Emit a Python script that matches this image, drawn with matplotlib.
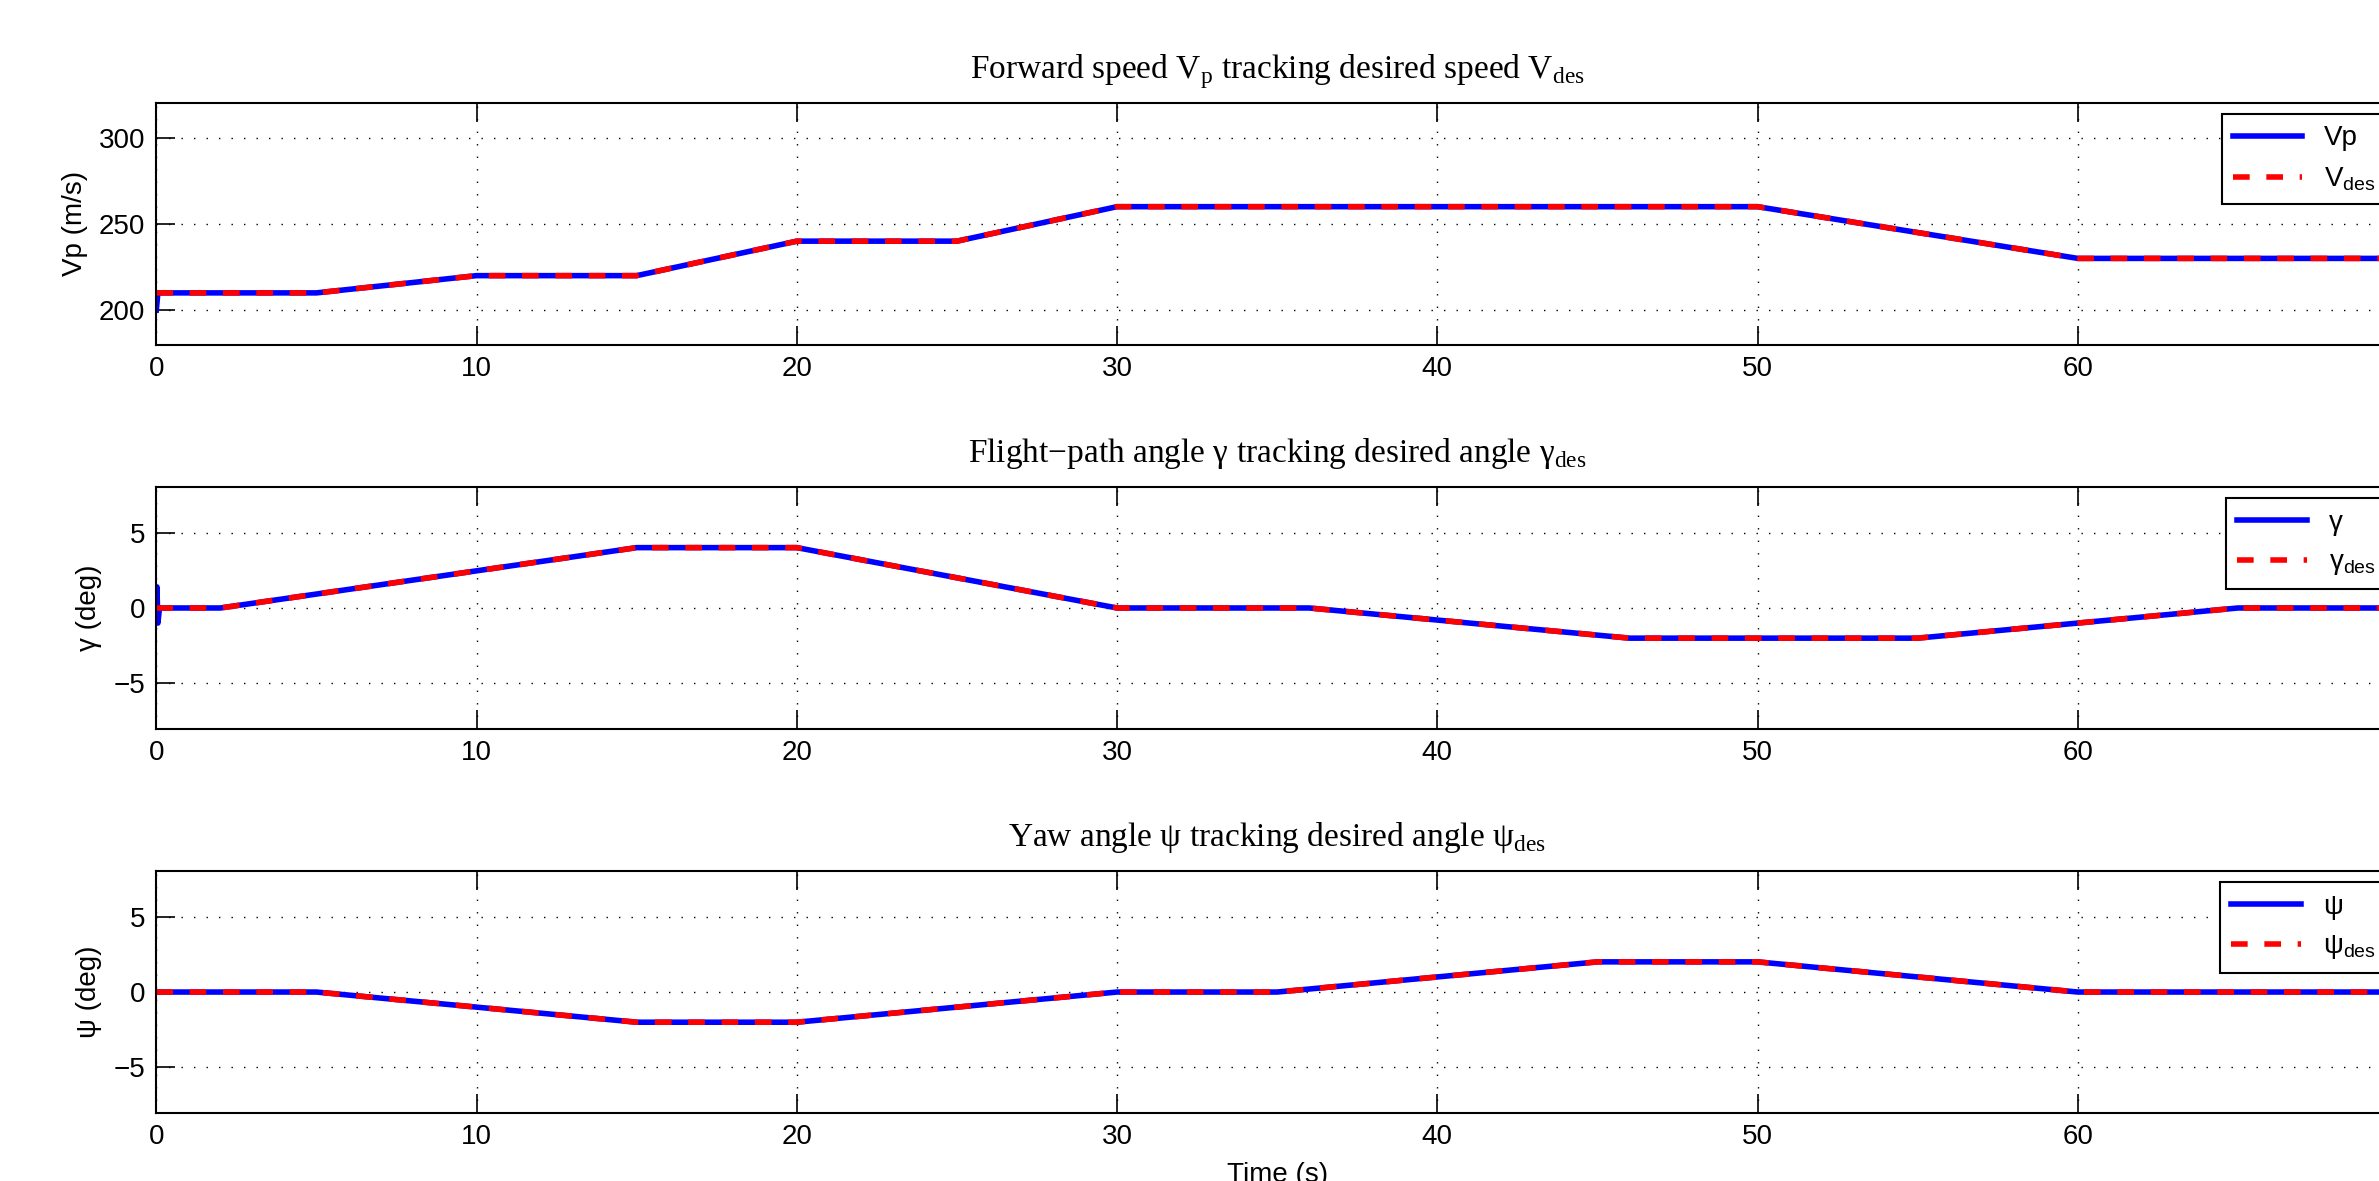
import matplotlib
matplotlib.use('Agg')
import matplotlib.pyplot as plt

# forward speed
t_vp = [0, 0.05, 5, 10, 15, 20, 25, 30, 50, 60, 70]
vp = [200, 210, 210, 220, 220, 240, 240, 260, 260, 230, 230]
t_vdes = [0, 5, 10, 15, 20, 25, 30, 50, 60, 70]
vdes = [210, 210, 220, 220, 240, 240, 260, 260, 230, 230]

# flight-path angle
t_gam = [0, 0.02, 0.05, 0.1, 2, 15, 20, 30, 36, 46, 55, 65, 70]
gam = [0, 1.4, -1.0, 0, 0, 4, 4, 0, 0, -2, -2, 0, 0]
t_gdes = [0, 2, 15, 20, 30, 36, 46, 55, 65, 70]
gdes = [0, 0, 4, 4, 0, 0, -2, -2, 0, 0]

# yaw angle
t_psi = [0, 5, 15, 20, 30, 35, 45, 50, 60, 70]
psi = [0, 0, -2, -2, 0, 0, 2, 2, 0, 0]
psides = [0, 0, -2, -2, 0, 0, 2, 2, 0, 0]

x_ticks = [0, 10, 20, 30, 40, 50, 60, 70]

plt.rcParams['font.family'] = ['Liberation Sans', 'DejaVu Sans']
plt.rcParams['font.size'] = 20

fig = plt.figure(figsize=(23.79, 11.81), dpi=100)

# axes run past the right edge of the picture, as in the original screenshot
LEFT = 0.0657
WIDTH = 1.008 - LEFT
H = 0.2044
bottoms = [0.7082, 0.383, 0.0578]

panels = [
    (t_vp, vp, t_vdes, vdes, 'Vp', r'V$_\mathregular{des}$', 'Vp (m/s)',
     r'Forward speed V$_\mathregular{p}$ tracking desired speed V$_\mathregular{des}$',
     (180, 320), [200, 250, 300]),
    (t_gam, gam, t_gdes, gdes, 'γ', r'γ$_\mathregular{des}$', 'γ (deg)',
     'Flight\u2212path angle γ tracking desired angle γ$_\\mathregular{des}$',
     (-8, 8), [-5, 0, 5]),
    (t_psi, psi, t_psi, psides, 'ψ', r'ψ$_\mathregular{des}$', 'ψ (deg)',
     r'Yaw angle ψ tracking desired angle ψ$_\mathregular{des}$',
     (-8, 8), [-5, 0, 5]),
]

for i, (t1, y1, t2, y2, lab1, lab2, ylab, title, ylim, yt) in enumerate(panels):
    ax = fig.add_axes([LEFT, bottoms[i], WIDTH, H])
    ax.plot(t1, y1, color='blue', lw=4, label=lab1)
    ax.plot(t2, y2, color='red', lw=4, dashes=(3, 3), label=lab2)
    ax.set_xlim(0, 70)
    ax.set_ylim(*ylim)
    ax.set_xticks(x_ticks)
    ax.set_xticklabels([str(v) if v < 70 else '' for v in x_ticks])
    ax.set_yticks(yt)
    ax.grid(True, color='black', linestyle=(0, (1, 8)), linewidth=1.0)
    ax.tick_params(direction='in', top=True, right=True, length=14, width=1.2, pad=8)
    for s in ax.spines.values():
        s.set_linewidth(1.5)
    ax.set_ylabel(ylab, labelpad=8)
    ax.set_title(title, fontfamily='Liberation Serif', fontsize=24, pad=18)
    leg = ax.legend(loc='upper right', fancybox=False, framealpha=1, edgecolor='black',
                    handlelength=2.5, borderaxespad=0.4)
    leg.get_frame().set_linewidth(1.5)
    if i == 2:
        ax.set_xlabel('Time (s)', labelpad=9)

fig.savefig('out.png', dpi=100)
